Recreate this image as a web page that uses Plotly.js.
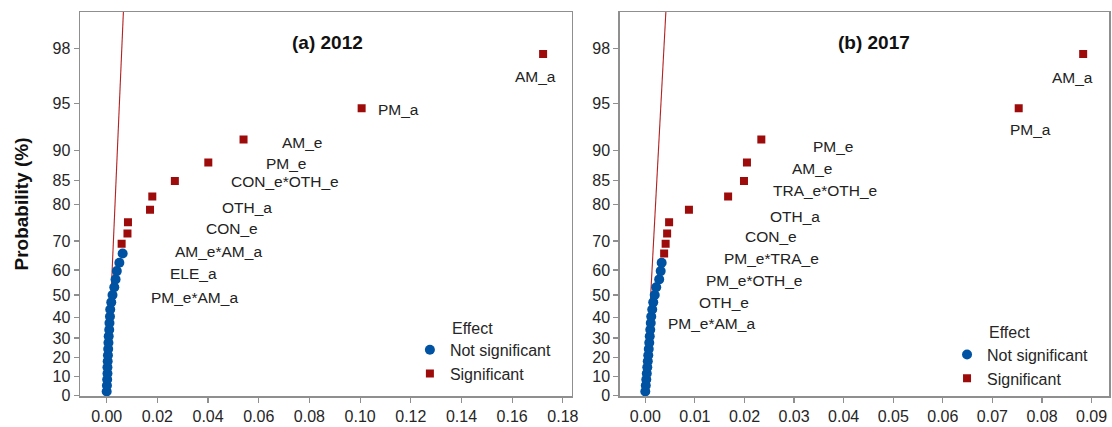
<!DOCTYPE html>
<html><head><meta charset="utf-8">
<script src="https://cdn.plot.ly/plotly-3.0.1.min.js"></script>
<style>html,body{margin:0;padding:0;background:#fff}#chart{width:1112px;height:427px}</style>
</head><body><div id="chart"></div>
<script>
// ---- data ----
const probTicks = [0, 10, 20, 30, 40, 50, 60, 70, 80, 85, 90, 95, 98];
// probability (%) of each ordered effect (31 effects per panel)
const probPercent = [2.2, 5.4, 8.6, 11.8, 15.0, 18.2, 21.3, 24.5, 27.7, 30.9, 34.1, 37.3, 40.4, 43.6, 46.8,
  50.0, 53.2, 56.4, 59.6, 62.7, 65.9, 69.1, 72.3, 75.5, 78.7, 81.8, 85.0, 88.2, 91.4, 94.6, 97.8];

// (a) 2012
const notSigA = [0.0000, 0.0001, 0.0002, 0.0003, 0.0003, 0.0004, 0.0005, 0.0006, 0.0007, 0.0008, 0.0010,
  0.0011, 0.0013, 0.0014, 0.0018, 0.0023, 0.0030, 0.0035, 0.0040, 0.0050, 0.0063];
const sigA = [0.0059, 0.0082, 0.0084, 0.0171, 0.0180, 0.0269, 0.0401, 0.0540, 0.1006, 0.1722];
const sigLabelsA = ['PM_e*AM_a', 'ELE_a', 'AM_e*AM_a', 'CON_e', 'OTH_a', 'CON_e*OTH_e', 'PM_e', 'AM_e', 'PM_a', 'AM_a'];
const refXA = [0, 0.0066];
const refPA = [0, 99];

// (b) 2017
const notSigB = [0.0000, 0.0001, 0.0002, 0.0003, 0.0004, 0.0005, 0.0006, 0.0007, 0.0008, 0.0009,
  0.0010, 0.0011, 0.0012, 0.0014, 0.0016, 0.0019, 0.0022, 0.0028, 0.0031, 0.0033];
const sigB = [0.0038, 0.0041, 0.0044, 0.0048, 0.0088, 0.0167, 0.0199, 0.0205, 0.0234, 0.0753, 0.0883];
const sigLabelsB = ['PM_e*AM_a', 'OTH_e', 'PM_e*OTH_e', 'PM_e*TRA_e', 'CON_e', 'OTH_a', 'TRA_e*OTH_e', 'AM_e', 'PM_e', 'PM_a', 'AM_a'];
const refXB = [0, 0.00415];
const refPB = [0, 99];

// ---- label placement (pixel offsets from each point: right, down) ----
const labelOffsetA = [[73, 54], [66, 40], [91, 29], [82, 19], [95, 11], [110, 1], [78, 1], [59, 3], [37, 1], [-8, 22]];
const labelOffsetB = [[47, 70], [58, 59], [87, 47], [102, 36], [82, 27], [67, 20], [81, 10], [66, 6], [72, 7], [12, 21], [-11, 23]];

// half-normal score for a probability in percent
function invNorm(p) {
  const a = [-3.969683028665376e+01, 2.209460984245205e+02, -2.759285104469687e+02, 1.383577518672690e+02, -3.066479806614716e+01, 2.506628277459239e+00];
  const b = [-5.447609879822406e+01, 1.615858368580409e+02, -1.556989798598866e+02, 6.680131188771972e+01, -1.328068155288572e+01];
  const c = [-7.784894002430293e-03, -3.223964580411365e-01, -2.400758277161838e+00, -2.549732539343734e+00, 4.374664141464968e+00, 2.938163982698783e+00];
  const d = [7.784695709041462e-03, 3.224671290700398e-01, 2.445134137142996e+00, 3.754408661907416e+00];
  const pl = 0.02425, ph = 1 - pl;
  let q, r;
  if (p < pl) { q = Math.sqrt(-2 * Math.log(p)); return (((((c[0]*q+c[1])*q+c[2])*q+c[3])*q+c[4])*q+c[5]) / ((((d[0]*q+d[1])*q+d[2])*q+d[3])*q+1); }
  if (p <= ph) { q = p - 0.5; r = q*q; return (((((a[0]*r+a[1])*r+a[2])*r+a[3])*r+a[4])*r+a[5])*q / (((((b[0]*r+b[1])*r+b[2])*r+b[3])*r+b[4])*r+1); }
  q = Math.sqrt(-2 * Math.log(1 - p)); return -(((((c[0]*q+c[1])*q+c[2])*q+c[3])*q+c[4])*q+c[5]) / ((((d[0]*q+d[1])*q+d[2])*q+d[3])*q+1);
}
const hn = pct => invNorm(0.5 + pct / 200);

const BLUE = '#0052A3', RED = '#9E0B0B', AXIS = '#8f8f8f', TXT = '#262626';
const FONT = 'Arial, "Liberation Sans", sans-serif';

function panel(notSig, sig, refX, refP, xa, ya, leg) {
  const nNot = notSig.length;
  const pNot = probPercent.slice(0, nNot);
  const pSig = probPercent.slice(nNot, nNot + sig.length);
  return [
    {x: refX, y: refP.map(hn), xaxis: xa, yaxis: ya, mode: 'lines', type: 'scatter',
     line: {color: '#B22222', width: 1.1}, showlegend: false, hoverinfo: 'skip'},
    {x: notSig, y: pNot.map(hn), xaxis: xa, yaxis: ya, mode: 'markers', type: 'scatter', name: 'Not significant',
     legend: leg, marker: {color: BLUE, size: 10, symbol: 'circle'}},
    {x: sig, y: pSig.map(hn), xaxis: xa, yaxis: ya, mode: 'markers', type: 'scatter', name: 'Significant',
     legend: leg, marker: {color: RED, size: 8, symbol: 'square'}}
  ];
}

function labelAnns(sig, labels, offsets, xa, ya, nNot) {
  return sig.map((v, i) => ({
    xref: xa, yref: ya, x: v, y: hn(probPercent[nNot + i]), text: labels[i], showarrow: false,
    xanchor: 'center', yanchor: 'middle', xshift: offsets[i][0], yshift: -offsets[i][1],
    font: {family: FONT, size: 15.5, color: '#222'}
  }));
}

const data = [].concat(
  panel(notSigA, sigA, refXA, refPA, 'x', 'y', 'legend'),
  panel(notSigB, sigB, refXB, refPB, 'x2', 'y2', 'legend2')
);

const yTickVals = probTicks.map(hn);
const yTickText = probTicks.map(String);
const yRange = [-0.003, 2.572];

const axisCommon = {
  showline: true, mirror: true, linecolor: AXIS, linewidth: 1.5, showgrid: false, zeroline: false,
  ticks: 'outside', ticklen: 5, tickwidth: 1.2, tickcolor: AXIS,
  tickfont: {family: FONT, size: 16, color: TXT}, automargin: false
};

const layout = {
  width: 1112, height: 427,
  margin: {l: 80, r: 3, t: 11.5, b: 30.5},
  paper_bgcolor: '#fff', plot_bgcolor: '#fff',
  font: {family: FONT, color: TXT},
  showlegend: true,
  xaxis: Object.assign({}, axisCommon, {domain: [0, 0.478], range: [-0.01053, 0.18355], tick0: 0, dtick: 0.02, tickformat: '.2f', anchor: 'y'}),
  yaxis: Object.assign({}, axisCommon, {domain: [0, 1], range: yRange, tickmode: 'array', tickvals: yTickVals, ticktext: yTickText, anchor: 'x',
    title: {text: '<b>Probability (%)</b>', font: {family: FONT, size: 19, color: '#111'}, standoff: 19}}),
  xaxis2: Object.assign({}, axisCommon, {domain: [0.5246, 1], range: [-0.00514, 0.09351], tick0: 0, dtick: 0.01, tickformat: '.2f', anchor: 'y2'}),
  yaxis2: Object.assign({}, axisCommon, {domain: [0, 1], range: yRange, tickmode: 'array', tickvals: yTickVals, ticktext: yTickText, anchor: 'x2'}),
  legend: {x: 0.3206, y: 0.1646, xanchor: 'left', yanchor: 'top', bgcolor: 'rgba(0,0,0,0)', font: {family: FONT, size: 16, color: TXT}, tracegroupgap: 0},
  legend2: {x: 0.8426, y: 0.152, xanchor: 'left', yanchor: 'top', bgcolor: 'rgba(0,0,0,0)', font: {family: FONT, size: 16, color: TXT}, tracegroupgap: 0},
  annotations: [].concat(
    labelAnns(sigA, sigLabelsA, labelOffsetA, 'x', 'y', notSigA.length),
    labelAnns(sigB, sigLabelsB, labelOffsetB, 'x2', 'y2', notSigB.length),
    [
      {xref: 'x domain', yref: 'y domain', x: 0.504, y: 0.9216, text: '<b>(a) 2012</b>', showarrow: false, xanchor: 'center', yanchor: 'middle', font: {family: FONT, size: 19, color: '#111'}},
      {xref: 'x2 domain', yref: 'y2 domain', x: 0.519, y: 0.921, text: '<b>(b) 2017</b>', showarrow: false, xanchor: 'center', yanchor: 'middle', font: {family: FONT, size: 19, color: '#111'}},
      {xref: 'paper', yref: 'paper', x: 0.3595, y: 0.176, text: 'Effect', showarrow: false, xanchor: 'left', yanchor: 'middle', font: {family: FONT, size: 16, color: TXT}},
      {xref: 'paper', yref: 'paper', x: 0.8815, y: 0.165, text: 'Effect', showarrow: false, xanchor: 'left', yanchor: 'middle', font: {family: FONT, size: 16, color: TXT}}
    ]
  )
};

Plotly.newPlot('chart', data, layout, {displayModeBar: false, staticPlot: true});
</script></body></html>
